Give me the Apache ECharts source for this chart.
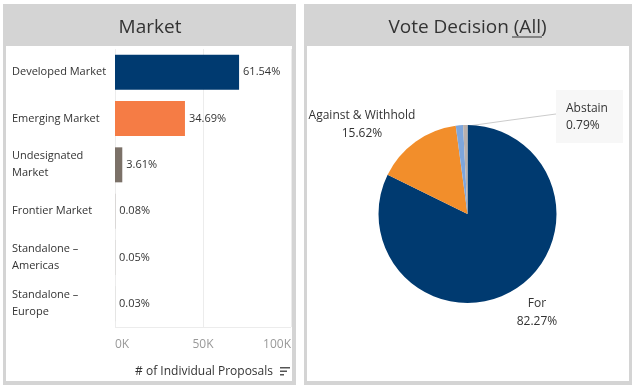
<!DOCTYPE html>
<html><head><meta charset="utf-8">
<script src="https://cdn.jsdelivr.net/npm/echarts@6/dist/echarts.min.js"></script>
<style>html,body{margin:0;padding:0;background:#fff}#c{width:633px;height:385px}</style>
</head><body><div id="c"></div>
<script>
const marketCategories = ['Developed Market','Emerging Market','Undesignated\nMarket','Frontier Market','Standalone –\nAmericas','Standalone –\nEurope'];
const marketProposals = [70500, 39750, 4140, 92, 58, 35];
const marketPercent = ['61.54%','34.69%','3.61%','0.08%','0.05%','0.03%'];
const marketColors = ['#003a70','#f57c45','#7b7168','#7b7168','#7b7168','#7b7168'];
const xTickLabels = {0:'0K',50000:'50K',100000:'100K'};
const voteNames = ['For','Against & Withhold','Other','Abstain'];
const votePercent = [82.27, 15.62, 1.32, 0.79];
const voteColors = ['#003a70','#f28e2b','#7ea6dc','#bab0ac'];

const F = "'Open Sans', sans-serif";
const chart = echarts.init(document.getElementById('c'));
const labelPos = {
  0:{x:537,y:313,align:'center'},
  1:{x:362,y:125,align:'center'},
  3:{x:556,y:90,align:'left',verticalAlign:'top'}
};
chart.setOption({
  animation:false,
  textStyle:{fontFamily:F},
  graphic:[
    {type:'rect',shape:{x:3,y:4,width:293,height:381},style:{fill:'#d4d4d4'},z:-10},
    {type:'rect',shape:{x:6,y:46,width:286,height:335},style:{fill:'#fff'},z:-9},
    {type:'rect',shape:{x:304,y:4,width:328,height:381},style:{fill:'#d4d4d4'},z:-10},
    {type:'rect',shape:{x:307,y:46,width:322,height:335},style:{fill:'#fff'},z:-9},
    {type:'text',x:150,y:28,style:{text:'Market',font:"19px "+F,fill:'#333',align:'center',verticalAlign:'middle'}},
    {type:'text',x:467.5,y:28,style:{text:'Vote Decision (All)',font:"19px "+F,fill:'#333',align:'center',verticalAlign:'middle'}},
    {type:'line',shape:{x1:512,y1:37,x2:542,y2:37},style:{stroke:'#333',lineWidth:1}},
    {type:'text',x:273,y:372,style:{text:'# of Individual Proposals',font:"12px "+F,fill:'#333',align:'right',verticalAlign:'middle'}},
    {type:'rect',shape:{x:280,y:367,width:10,height:1.5},style:{fill:'#555'}},
    {type:'rect',shape:{x:280,y:370.5,width:7,height:1.5},style:{fill:'#555'}},
    {type:'rect',shape:{x:280,y:374,width:4,height:1.5},style:{fill:'#555'}}
  ],
  grid:{left:115,top:49,width:176,height:278},
  xAxis:{type:'value',min:0,max:100000,interval:50000,
    axisLine:{show:false},axisTick:{show:false},
    splitLine:{lineStyle:{color:'#ececec'}},
    axisLabel:{color:'#999',fontSize:12,margin:12,alignMinLabel:'left',alignMaxLabel:'right',
      formatter:v=>xTickLabels[v]}},
  yAxis:{type:'category',data:marketCategories,inverse:true,
    axisLine:{show:false},axisTick:{show:false},
    axisLabel:{align:'left',margin:103,color:'#333',fontSize:11,lineHeight:17,padding:[4,0,0,0]}},
  series:[
    {type:'bar',barWidth:35,
     data:marketProposals.map((v,i)=>({value:v,itemStyle:{color:marketColors[i]}})),
     label:{show:true,position:'right',distance:4,color:'#333',fontSize:11,padding:[3,0,0,0],
       formatter:p=>marketPercent[p.dataIndex]},
     markLine:{silent:true,symbol:'none',label:{show:false},lineStyle:{color:'#ececec',type:'solid',width:1},
       data:[[{coord:[0,5],y:327},{coord:[100000,5],y:327}]]}
    },
    {type:'pie',center:[467.5,214],radius:89,startAngle:90,clockwise:true,
     data:voteNames.map((n,i)=>({name:n,value:votePercent[i],itemStyle:{color:voteColors[i]},
       label: i===3 ? {show:true,backgroundColor:'#f7f7f7',padding:[10,7,9,10],width:50,overflow:'none',align:'left',lineHeight:17}
                    : {show:i!==2},
       labelLine:{show:i===3,lineStyle:{color:'#ccc',width:1}}})),
     label:{position:'outside',color:'#333',fontSize:12,lineHeight:18,
       formatter:p=>p.name+'\n'+p.value.toFixed(2)+'%'},
     emphasis:{disabled:true},
     labelLayout:function(p){
       const o = labelPos[p.dataIndex]; if(!o) return {};
       const r = {x:o.x,y:o.y,align:o.align,verticalAlign:o.verticalAlign||'middle'};
       if(p.dataIndex===3){ r.labelLinePoints=[[468,126],[511,120],[556,114]]; }
       return r;
     }
    }
  ]
});
</script></body></html>
